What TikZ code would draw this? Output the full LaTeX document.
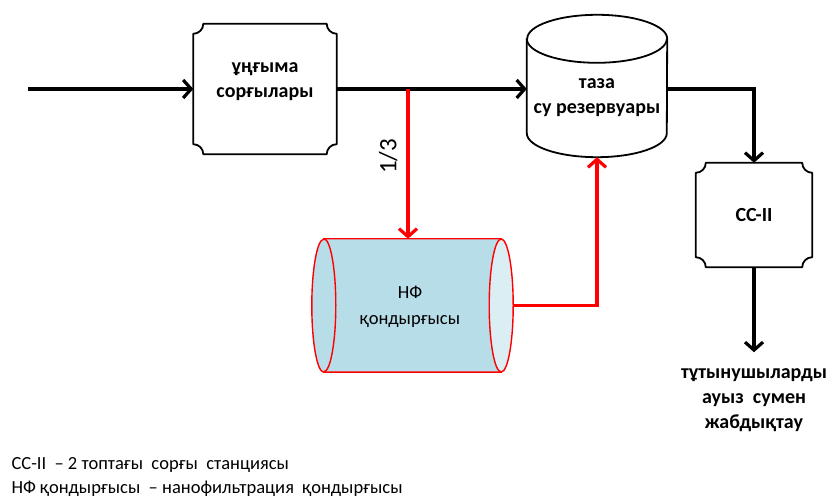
\documentclass[tikz,border=0pt]{standalone}
\usepackage{fontspec}
\setmainfont{Carlito}
\usetikzlibrary{arrows.meta}
\definecolor{nfbody}{HTML}{B7DDE8}
\definecolor{nfend}{HTML}{DAEEF3}
\definecolor{flowred}{HTML}{FF0000}

\tikzset{
  frame/.style={line width=1.8pt, line join=round},
  redframe/.style={line width=1.4pt, draw=flowred},
  boxtext/.style={font=\fontsize{20}{25}\selectfont\bfseries, align=center},
  pumpbox/.style={boxtext, inner sep=0pt, minimum width=#1},
  flow/.style={line width=3.2pt, -{Straight Barb[length=8pt,width=18pt]}},
  redflow/.style={flow, draw=flowred},
  keytext/.style={anchor=west, font=\fontsize{18.5}{18.5}\selectfont}
}

% frame with concave corners round a named node
\newcommand\plaqueframe[1]{%
  \draw[frame] ([xshift=10pt]#1.north west) -- ([xshift=-10pt]#1.north east)
    arc[start angle=180,end angle=270,radius=10pt] -- ([yshift=10pt]#1.south east)
    arc[start angle=90,end angle=180,radius=10pt] -- ([xshift=10pt]#1.south west)
    arc[start angle=0,end angle=90,radius=10pt] -- ([yshift=-10pt]#1.north west)
    arc[start angle=270,end angle=360,radius=10pt] -- cycle;}

% upright tank round a named node
\newcommand\tankframe[1]{%
  \draw[frame, fill=white] ([yshift=-24pt]#1.north west) -- ([yshift=24pt]#1.south west)
    arc[start angle=180,end angle=360,x radius=70pt,y radius=24pt]
    -- ([yshift=-24pt]#1.north east)
    arc[start angle=0,end angle=180,x radius=70pt,y radius=24pt] -- cycle;
  \draw[frame] ([yshift=-24pt]#1.north west)
    arc[start angle=180,end angle=360,x radius=70pt,y radius=24pt];}

% lying tank round a named node
\newcommand\filterframe[1]{%
  \draw[redframe, fill=nfbody] ([xshift=12pt]#1.north west) -- ([xshift=-12pt]#1.north east)
    -- ([xshift=-12pt]#1.south east) -- ([xshift=12pt]#1.south west)
    arc[start angle=270,end angle=90,x radius=12pt,y radius=66.5pt] -- cycle;
  \draw[redframe, fill=nfend] ([xshift=-12pt]#1.east) ellipse[x radius=12pt,y radius=66.5pt];
  \draw[redframe] ([xshift=12pt]#1.north west)
    arc[start angle=90,end angle=-90,x radius=12pt,y radius=66.5pt];}

\begin{document}
\begin{tikzpicture}[x=1pt,y=1pt]
\useasboundingbox (0,0) rectangle (831,497);

% pumps, reservoir, second stage
\node[pumpbox=143pt, minimum height=130pt, text depth=17pt] (well) at (265,408) {ұңғыма\\сорғылары};
\plaqueframe{well}
\node[pumpbox=140pt, minimum height=142pt] (res) at (597,411) {};
\tankframe{res}
\node[boxtext] (restext) at ([yshift=-11.5pt]res.center) {таза\\су резервуары};
\node[pumpbox=116pt, minimum height=104pt] (cc) at (754,282) {CC-II};
\plaqueframe{cc}

% nanofiltration unit
\node[inner sep=0pt, minimum width=201pt, minimum height=133pt] (nf) at (412.5,191.5) {};
\filterframe{nf}
\node[align=center, font=\fontsize{18.5}{26}\selectfont] (nftext)
  at ([xshift=-2.5pt,yshift=-1.5pt]nf.center) {НФ\\қондырғысы};

\node[boxtext, inner ysep=16pt] (use) at (754,97) {тұтынушыларды\\ауыз\ \ сумен\\жабдықтау};

% connectors
\coordinate (in) at (28,408);
\coordinate (split) at (408,408);
\draw[flow] (in) -- (well);
\draw[flow] (well.east) -- (well.east -| res.west);
\draw[flow] (res.east |- well.east) -| (cc.north);
\draw[flow] (cc) -- (use);
\draw[redflow] (split) -- (split |- nf.north)
  node[pos=0.45, rotate=90, anchor=south, inner sep=9pt, black,
       font=\fontsize{25}{25}\selectfont] {1/3};
\draw[redflow] (nf.east) -| (res.south);

% legend
\node[keytext] (key1) at (8,32) {CC-II\ \ -- 2 топтағы\ \ сорғы\ \ станциясы};
\node[keytext] (key2) at (8,8) {НФ қондырғысы\ \ -- нанофильтрация\ \ қондырғысы};
\end{tikzpicture}
\end{document}
